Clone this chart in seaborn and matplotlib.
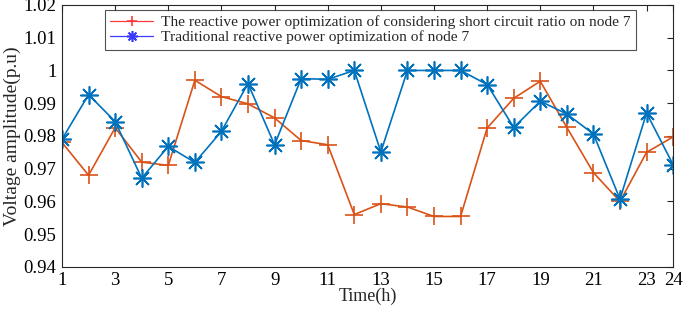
import pandas as pd
import matplotlib
matplotlib.use("Agg")
import matplotlib.pyplot as plt
import seaborn as sns

# hours and node-7 voltage values
hours = list(range(1, 25))
scr_opt = [0.978, 0.968, 0.9825, 0.972, 0.971, 0.997, 0.992, 0.9898, 0.9855, 0.9786,
           0.9773, 0.956, 0.9593, 0.9583, 0.9554, 0.9554, 0.9824, 0.9915, 0.9967, 0.9826,
           0.9688, 0.960, 0.975, 0.9797]
trad_opt = [0.979, 0.9926, 0.9844, 0.9671, 0.9768, 0.9719, 0.9814, 0.9960, 0.9773, 0.9975,
            0.9973, 1.000, 0.9751, 1.000, 1.000, 1.000, 0.9957, 0.9826, 0.9906, 0.9867,
            0.9806, 0.9607, 0.987, 0.9712]
labels = ["The reactive power optimization of considering short circuit ratio on node 7",
          "Traditional reactive power optimization of node 7"]
xticks = [1, 3, 5, 7, 9, 11, 13, 15, 17, 19, 21, 23, 24]
yticks = [0.94, 0.95, 0.96, 0.97, 0.98, 0.99, 1.0, 1.01, 1.02]

sns.set_style("white")
plt.rcParams["font.family"] = ["Liberation Serif", "DejaVu Serif"]

fig = plt.figure(figsize=(6.99, 3.10), dpi=100)
ax = fig.add_axes([0.0887, 0.139, 0.8743, 0.845])

red, blue = "#D95319", "#0072BD"
sns.lineplot(x=hours, y=scr_opt, ax=ax, color=red, lw=1.2,
             marker="+", markersize=13, markeredgewidth=1.2, markeredgecolor=red,
             label=labels[0])
sns.lineplot(x=hours, y=trad_opt, ax=ax, color=blue, lw=1.2,
             marker=(8, 2, 0), markersize=13, markeredgewidth=1.2, markeredgecolor=blue,
             label=labels[1])

ax.set_xlim(1, 24)
ax.set_ylim(0.94, 1.02)
ax.set_xticks(xticks)
ax.set_yticks(yticks)
ax.set_yticklabels(["1" if v == 1.0 else f"{v:.2f}" for v in yticks])
ax.tick_params(direction="in", length=4, width=0.8, labelsize=13.5, colors="#262626",
               labelcolor="black", top=True, right=True, pad=4)
ax.set_xlabel("Time(h)", fontsize=13, labelpad=-1)
ax.set_ylabel("Voltage amplitude(p.u)", fontsize=14, labelpad=2)
for s in ax.spines.values():
    s.set_color("#262626")
    s.set_linewidth(0.8)

leg = ax.legend(loc="upper left", bbox_to_anchor=(0.070, 0.981), fontsize=11.05,
                frameon=True, fancybox=False, edgecolor="#262626", borderpad=0.35,
                labelspacing=0.1, handlelength=2.8, handletextpad=0.5, borderaxespad=0,
                markerscale=0.6)
leg.get_frame().set_linewidth(0.8)
# legend handles are drawn in lighter red / blue in the reference
for h, c in zip(leg.get_lines(), ["#FF3B3B", "#3A3AFF"]):
    h.set_color(c)
    h.set_markeredgecolor(c)
    h.set_linewidth(0.9)

fig.savefig("out.png", dpi=100)
